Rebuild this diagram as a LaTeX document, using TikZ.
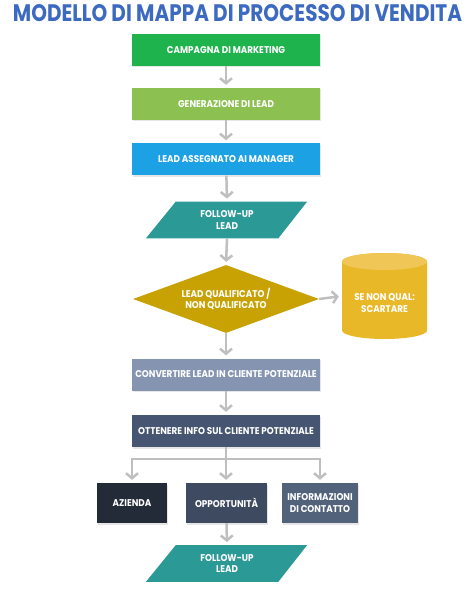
\documentclass[tikz,border=0pt]{standalone}
\usepackage{fontspec}
\setmainfont{Poppins}[FakeStretch=0.9]
\usetikzlibrary{shapes.geometric,arrows.meta,shadows}
\definecolor{titleblue}{HTML}{3D6AC1}
\definecolor{cgreen}{HTML}{1FB34D}
\definecolor{clgreen}{HTML}{8CC151}
\definecolor{cblue}{HTML}{1DA1E5}
\definecolor{cteal}{HTML}{2B9A97}
\definecolor{cgold}{HTML}{C8A103}
\definecolor{ccyl}{HTML}{E9B829}
\definecolor{ccyltop}{HTML}{F0C756}
\definecolor{cslate}{HTML}{8595B1}
\definecolor{cdark}{HTML}{465571}
\definecolor{caz}{HTML}{232B39}
\definecolor{cop}{HTML}{3E4A60}
\definecolor{cinf}{HTML}{52627B}
\definecolor{arrowgray}{HTML}{BFBFBF}
\begin{document}
\begin{tikzpicture}[x=1pt,y=-1pt,
  txt/.style={text=white, font=\bfseries\fontsize{9.8}{11.5}\selectfont, align=center, inner sep=0pt},
  shad/.style={drop shadow={opacity=0.2, shadow xshift=1pt, shadow yshift=-1.5pt}},
  box/.style={txt, shad, rectangle, minimum width=188pt, minimum height=32pt},
  smallbox/.style={txt, shad, rectangle, minimum height=40pt},
  arr/.style={draw=arrowgray, line width=2.5pt, -{Straight Barb[length=5pt,width=12pt]}, shorten >=3pt},
  holder/.style={rectangle, inner sep=0pt, minimum width=102pt, minimum height=36.5pt}
]
\useasboundingbox (0,0) rectangle (474,593);
\node[text=titleblue, font=\bfseries, inner sep=0pt] (title) at (237.5,13.5)
  {\resizebox{449pt}{17pt}{MODELLO DI MAPPA DI PROCESSO DI VENDITA}};

\node[box, fill=cgreen] (b1) at (226,50) {CAMPAGNA DI MARKETING};
\node[box, fill=clgreen] (b2) at (226,104) {GENERAZIONE DI LEAD};
\node[box, fill=cblue] (b3) at (226,159.5) {LEAD ASSEGNATO AI MANAGER};

\node[holder] (f1) at (227,220) {};
\fill[cteal] (f1.north west) -- ([xshift=29pt]f1.north east) -- (f1.south east) -- ([xshift=-30pt]f1.south west) -- cycle;
\node[txt] (f1t) at (f1.center) {FOLLOW-UP\\LEAD};

\node[diamond, aspect=2.735, fill=cgold, minimum width=186pt, minimum height=68pt, txt] (d) at (226,299) {LEAD QUALIFICATO /\\NON QUALIFICATO};

\node[rectangle, inner sep=0pt, minimum width=85pt, minimum height=86pt] (cyl) at (384.5,296) {};
\fill[ccyl] (342,261.5) -- (342,330.5) arc[start angle=180, end angle=360, x radius=42.5pt, y radius=8.5pt]
  -- (427,261.5) arc[start angle=0, end angle=180, x radius=42.5pt, y radius=8.5pt] -- cycle;
\fill[ccyltop] (384.5,261.5) ellipse[x radius=42.5pt, y radius=8.5pt];
\node[txt] (cylt) at (384.5,303) {SE NON QUAL:\\SCARTARE};

\node[box, fill=cslate] (b5) at (226,374.5) {CONVERTIRE LEAD IN CLIENTE POTENZIALE};
\node[box, fill=cdark] (b6) at (226,431) {OTTENERE INFO SUL CLIENTE POTENZIALE};

\node[smallbox, fill=caz, minimum width=70pt] (az) at (132,503) {AZIENDA};
\node[smallbox, fill=cop, minimum width=81pt] (op) at (226.5,503) {OPPORTUNIT\`A};
\node[smallbox, fill=cinf, minimum width=76pt] (inf) at (320,503) {INFORMAZIONI\\DI CONTATTO};

\node[holder] (f2) at (227,563.5) {};
\fill[cteal] (f2.north west) -- ([xshift=29pt]f2.north east) -- (f2.south east) -- ([xshift=-30pt]f2.south west) -- cycle;
\node[txt] (f2t) at (f2.center) {FOLLOW-UP\\LEAD};

\coordinate (j) at (226,459);
\draw[arr] (b1) -- (b2);
\draw[arr] (b2) -- (b3);
\draw[arr] (b3) -- (f1.north);
\draw[arr] (f1.south) -- (d.north);
\draw[arr] (d.east) -- (cyl.west);
\draw[arr] (d.south) -- (b5.north);
\draw[arr] (b5) -- (b6);
\draw[arr] (b6.south) -- (j) -| (az.north);
\draw[arr] (j) -| (inf.north);
\draw[arr] (j) -- (j |- op.north);
\draw[arr] (op.south) -- (f2.north);
\end{tikzpicture}
\end{document}
